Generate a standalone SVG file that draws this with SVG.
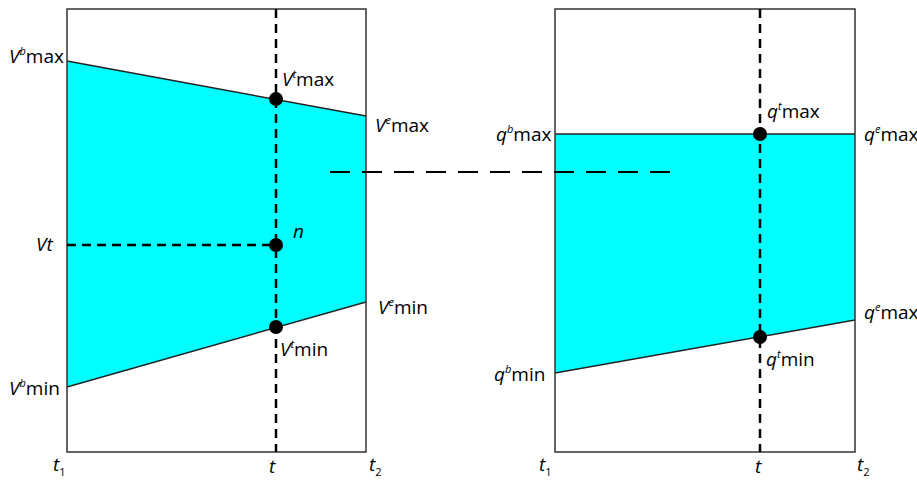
<svg xmlns="http://www.w3.org/2000/svg" width="917" height="481" viewBox="0 0 917 481">
<style>
text{font-family:"Open Sans","Noto Sans",sans-serif;font-size:19px;fill:#000}
.i{font-style:italic}
.sup{font-size:11px;font-style:italic}
.sub{font-size:11px}
.box{fill:none;stroke:#333;stroke-width:1.5}
.band{fill:#00FFFF;stroke:none}
.edge{stroke:#222;stroke-width:1.5;fill:none}
.dash{stroke:#000;stroke-width:2.5;stroke-dasharray:9 6;fill:none}
.dash2{stroke:#000;stroke-width:2;stroke-dasharray:20 12;fill:none}
.dot{fill:#000}
</style>
<g id="left-panel">
<polygon class="band" points="67,61 366,116 366,302 67,387"/>
<line class="edge" x1="67" y1="61" x2="366" y2="116"/>
<line class="edge" x1="67" y1="387" x2="366" y2="302"/>
<rect class="box" x="67" y="9" width="299" height="443"/>
</g>
<g id="right-panel">
<polygon class="band" points="555,134 855,134 855,320 555,373"/>
<line class="edge" x1="555" y1="134" x2="855" y2="134"/>
<line class="edge" x1="555" y1="373" x2="855" y2="320"/>
<rect class="box" x="555" y="9" width="300" height="443"/>
</g>
<g id="connectors">
<line class="dash" x1="276" y1="9" x2="276" y2="452"/>
<line class="dash" x1="67" y1="245" x2="276" y2="245"/>
<line class="dash" x1="760" y1="9" x2="760" y2="452"/>
<line class="dash2" x1="330" y1="172" x2="677" y2="172"/>
</g>
<g id="points">
<circle class="dot" cx="276" cy="99" r="7"/>
<circle class="dot" cx="276" cy="245" r="7"/>
<circle class="dot" cx="276" cy="327" r="7"/>
<circle class="dot" cx="760" cy="134" r="7"/>
<circle class="dot" cx="760" cy="337" r="7"/>
</g>
<g id="labels-left">
<text x="9" y="63"><tspan class="i">V</tspan><tspan class="sup" dy="-8">b</tspan><tspan dy="8">max</tspan></text>
<text x="282" y="86"><tspan class="i">V</tspan><tspan class="sup" dy="-8">t</tspan><tspan dy="8">max</tspan></text>
<text x="375" y="132"><tspan class="i">V</tspan><tspan class="sup" dy="-8">e</tspan><tspan dy="8">max</tspan></text>
<text x="36" y="251" class="i">Vt</text>
<text x="293" y="238" class="i">n</text>
<text x="378" y="314"><tspan class="i">V</tspan><tspan class="sup" dy="-8">e</tspan><tspan dy="8">min</tspan></text>
<text x="280" y="356"><tspan class="i">V</tspan><tspan class="sup" dy="-8">t</tspan><tspan dy="8">min</tspan></text>
<text x="9" y="395"><tspan class="i">V</tspan><tspan class="sup" dy="-8">b</tspan><tspan dy="8">min</tspan></text>
<text x="53" y="471"><tspan class="i">t</tspan><tspan class="sub" dy="5">1</tspan></text>
<text x="269" y="473" class="i">t</text>
<text x="369" y="471"><tspan class="i">t</tspan><tspan class="sub" dy="5">2</tspan></text>
</g>
<g id="labels-right">
<text x="496" y="141"><tspan class="i">q</tspan><tspan class="sup" dy="-8">b</tspan><tspan dy="8">max</tspan></text>
<text x="767" y="118"><tspan class="i">q</tspan><tspan class="sup" dy="-8">t</tspan><tspan dy="8">max</tspan></text>
<text x="864" y="141"><tspan class="i">q</tspan><tspan class="sup" dy="-8">e</tspan><tspan dy="8">max</tspan></text>
<text x="864" y="319"><tspan class="i">q</tspan><tspan class="sup" dy="-8">e</tspan><tspan dy="8">max</tspan></text>
<text x="494" y="381"><tspan class="i">q</tspan><tspan class="sup" dy="-8">b</tspan><tspan dy="8">min</tspan></text>
<text x="766" y="366"><tspan class="i">q</tspan><tspan class="sup" dy="-8">t</tspan><tspan dy="8">min</tspan></text>
<text x="539" y="471"><tspan class="i">t</tspan><tspan class="sub" dy="5">1</tspan></text>
<text x="755" y="473" class="i">t</text>
<text x="857" y="471"><tspan class="i">t</tspan><tspan class="sub" dy="5">2</tspan></text>
</g>
</svg>
